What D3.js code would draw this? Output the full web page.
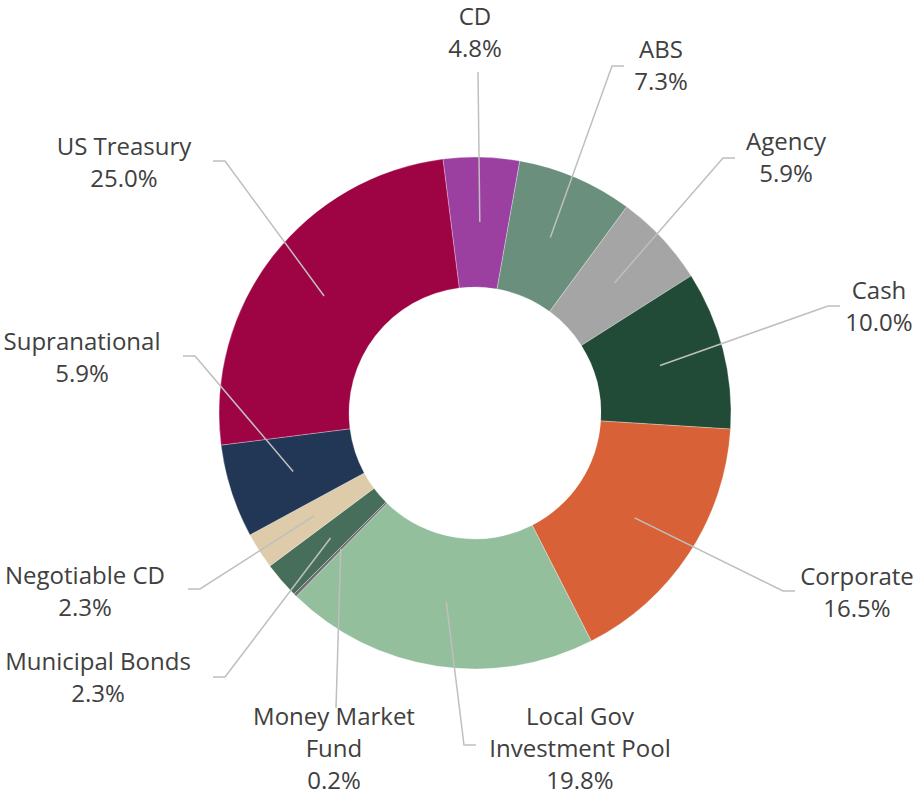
<!DOCTYPE html>
<meta charset="utf-8">
<head>
    <title>Portfolio Allocation Donut</title>
    <script src="https://d3js.org/d3.v7.min.js"></script>
    <style>
        body { margin: 0; background: #fff; }
        text { font-family: "Open Sans", Lato, sans-serif; fill: #404040; }
    </style>
</head>
<body>
    <div id="chart"></div>
    <script>
        // data (percent of portfolio)
        var categories = ["CD", "ABS", "Agency", "Cash", "Corporate", "Local Gov Investment Pool",
            "Money Market Fund", "Municipal Bonds", "Negotiable CD", "Supranational", "US Treasury"];
        var values = [4.8, 7.3, 5.9, 10.0, 16.5, 19.8, 0.2, 2.3, 2.3, 5.9, 25.0];
        var colors = ["#9b3fa0", "#6a8f7c", "#a5a5a5", "#214a37", "#d86137", "#93bf9d",
            "#6f6f6f", "#476e5b", "#ddcba9", "#213755", "#9e0443"];
        // how each label's name is broken into lines
        var labelLines = [["CD"], ["ABS"], ["Agency"], ["Cash"], ["Corporate"], ["Local Gov", "Investment Pool"],
            ["Money Market", "Fund"], ["Municipal Bonds"], ["Negotiable CD"], ["Supranational"], ["US Treasury"]];

        // label layout: centre of first line, and where the leader line meets the label
        var labelPos = [[475, 17], [661, 50], [786, 142], [879, 291], [857, 577], [580, 717],
            [334, 717], [98, 662], [85, 576], [82, 342], [124, 147]];
        var leaderEnd = [[478, 72, 0], [624, 66, -1], [735, 158, -1], [840, 306, -1], [795, 591, -1], [476, 745, -1],
            [336, 708, 0], [213, 677, 1], [188, 589, 1], [183, 356, 1], [213, 161, 1]];

        var width = 917, height = 798;
        var cx = 475, cy = 413;
        var outerR = 256, innerR = 126;
        var lineH = 32;

        var svg = d3.select("#chart").append("svg")
            .attr("width", width)
            .attr("height", height);

        var g = svg.append("g").attr("transform", "translate(" + cx + "," + cy + ")");

        var startA = -7.2 * Math.PI / 180;
        var pie = d3.pie().sort(null).value(function(d) { return d; })
            .startAngle(startA).endAngle(startA + 2 * Math.PI);
        var arcs = pie(values);

        var arc = d3.arc().innerRadius(innerR).outerRadius(outerR);

        g.selectAll("path.slice")
            .data(arcs)
            .enter().append("path")
            .attr("class", "slice")
            .attr("d", arc)
            .attr("fill", function(d, i) { return colors[i]; })
            .attr("stroke", "#fff")
            .attr("stroke-width", 0.3);

        // leader lines from the middle of each slice to its label
        svg.selectAll("polyline.leader")
            .data(arcs)
            .enter().append("polyline")
            .attr("class", "leader")
            .attr("fill", "none")
            .attr("stroke", "#bfbfbf")
            .attr("stroke-width", 1.5)
            .attr("points", function(d, i) {
                var c = arc.centroid(d);
                var p0 = [cx + c[0], cy + c[1]];
                var e = leaderEnd[i];
                if (e[2] === 0) return [p0, [e[0], e[1]]].join(" ");
                var elbow = [e[0] + e[2] * 12, e[1]];
                return [p0, elbow, [e[0], e[1]]].join(" ");
            });

        // labels
        var labels = svg.selectAll("text.lab")
            .data(arcs)
            .enter().append("text")
            .attr("class", "lab")
            .attr("text-anchor", "middle")
            .attr("font-size", 24);

        labels.each(function(d, i) {
            var t = d3.select(this);
            var lines = labelLines[i].concat([d3.format(".1f")(values[i]) + "%"]);
            lines.forEach(function(s, k) {
                t.append("tspan")
                    .attr("x", labelPos[i][0])
                    .attr("y", labelPos[i][1] + k * lineH)
                    .attr("dy", "0.35em")
                    .text(s);
            });
        });
    </script>
</body>
</html>
